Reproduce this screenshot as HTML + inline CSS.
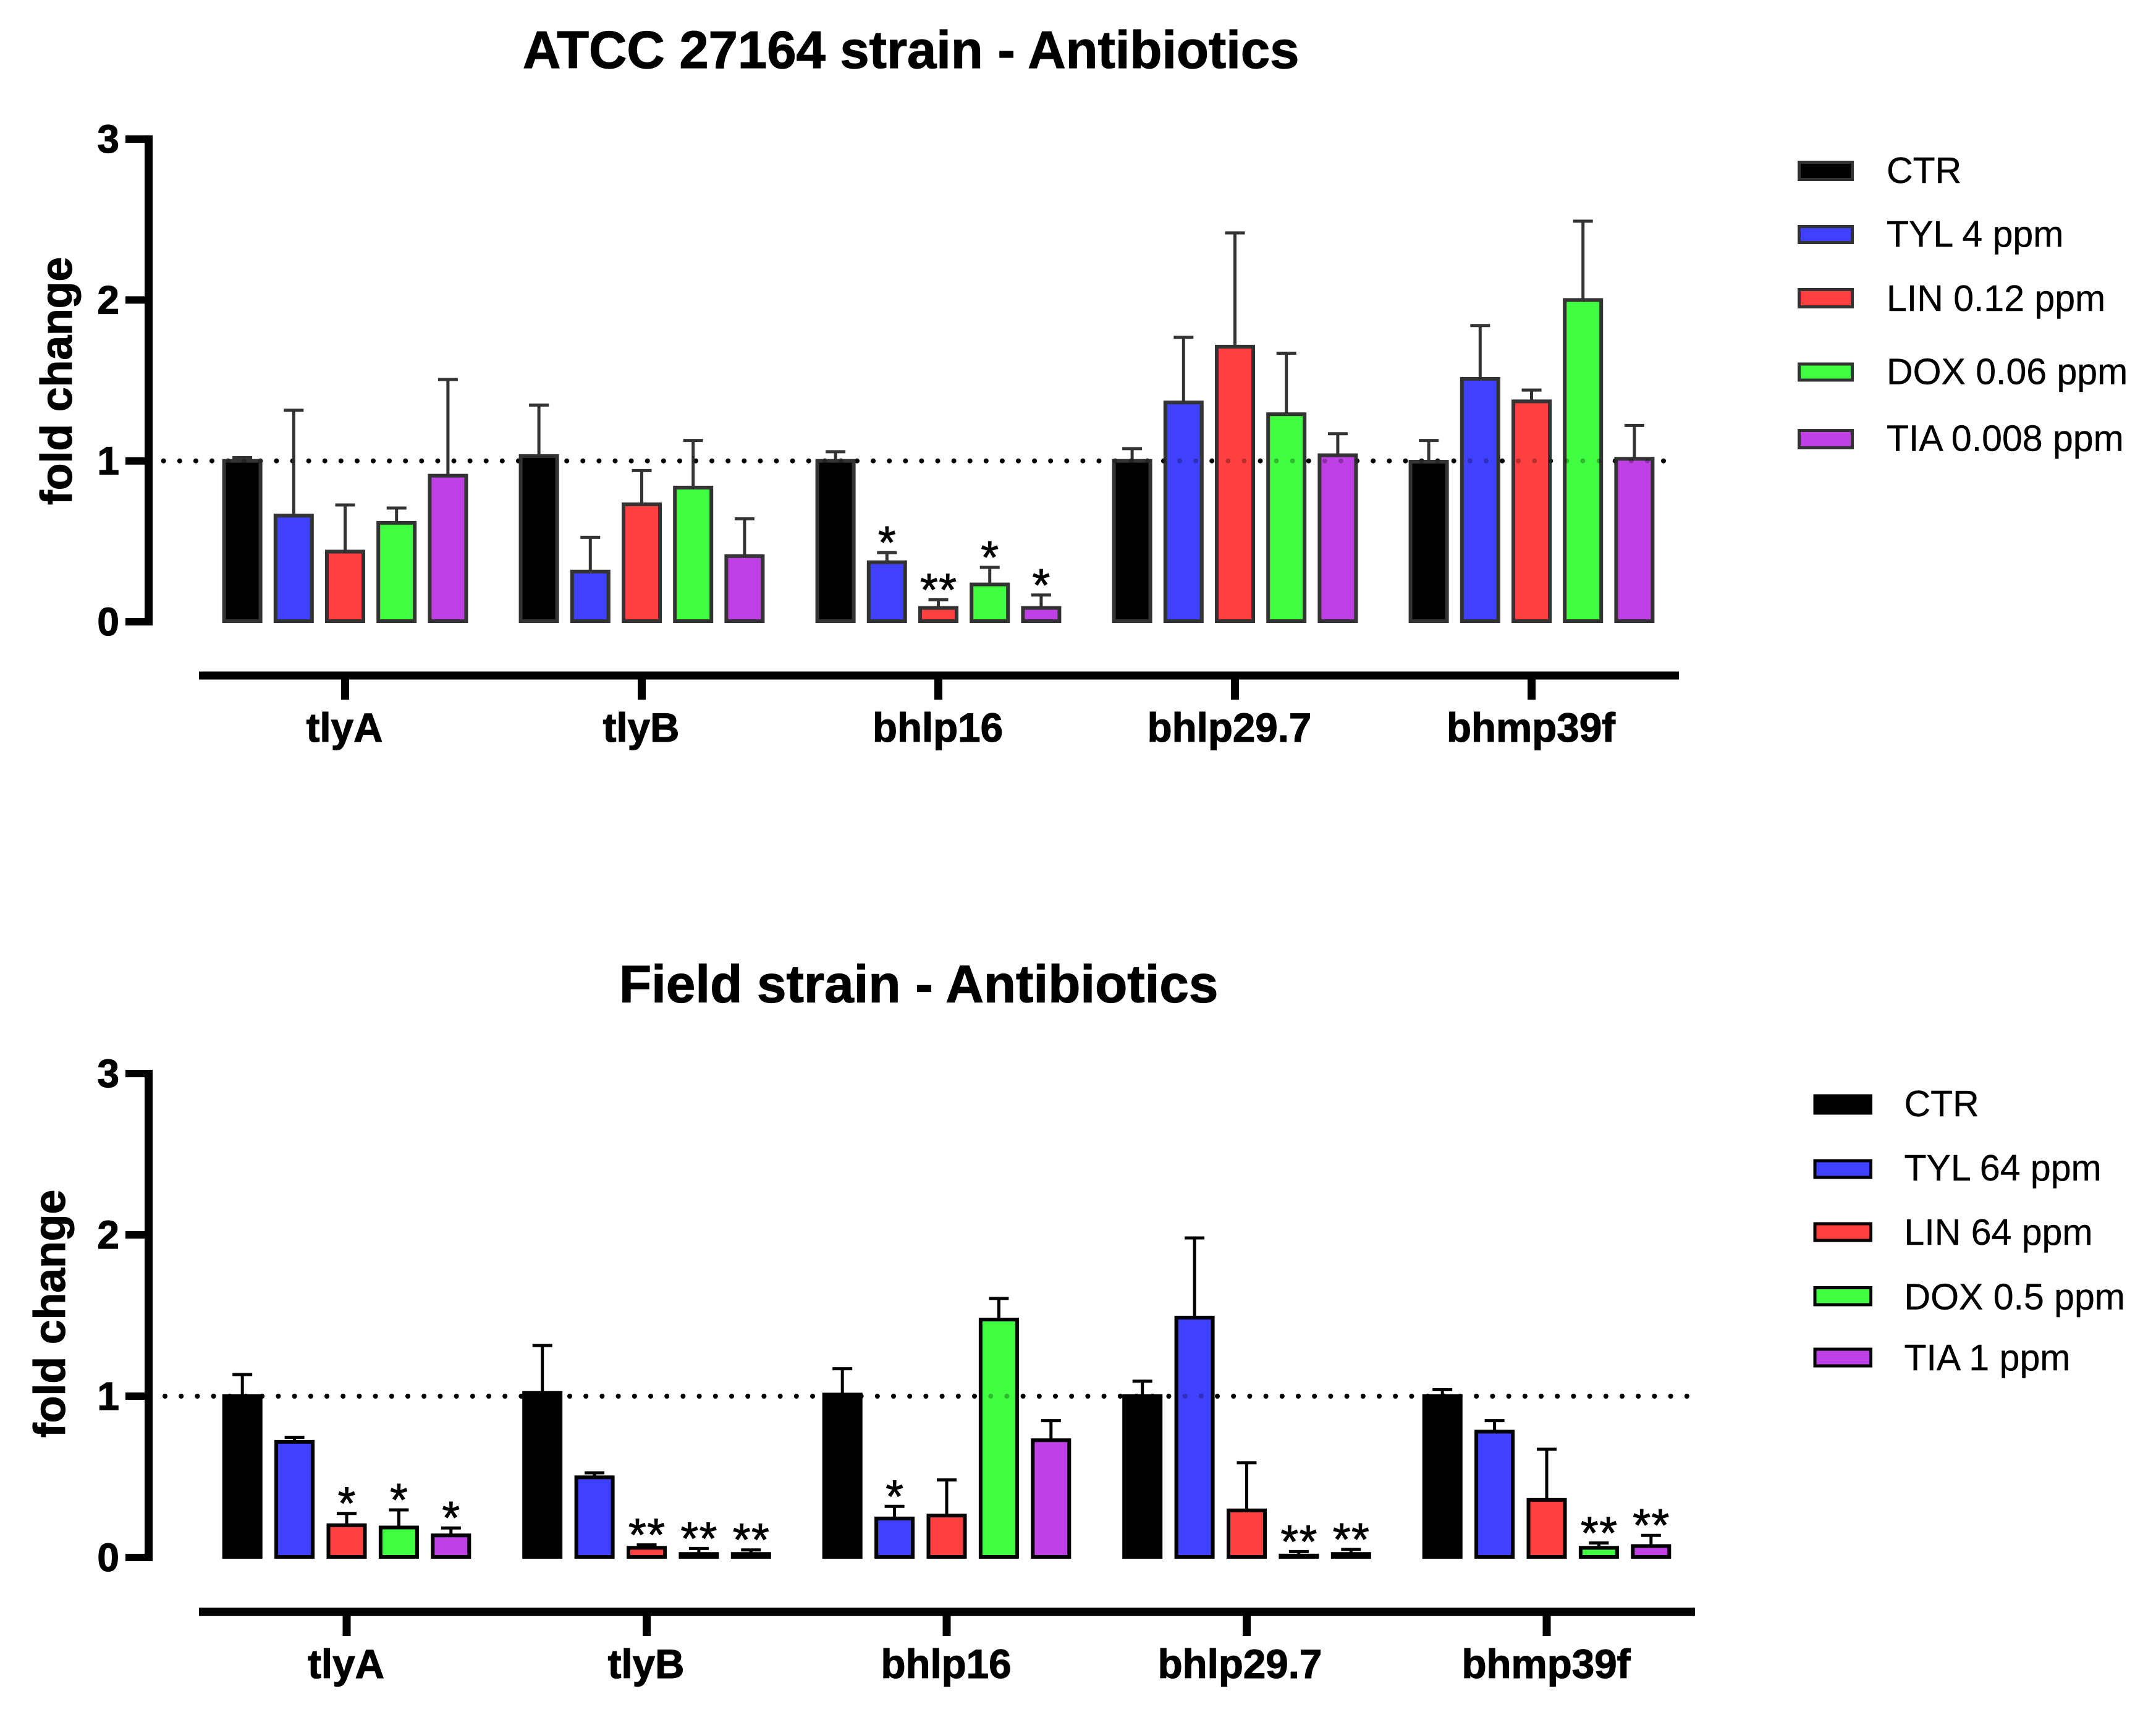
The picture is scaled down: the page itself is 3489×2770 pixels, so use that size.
<!DOCTYPE html>
<html lang="en">
<head>
<meta charset="utf-8">
<title>Antibiotics fold change charts</title>
<style>
html,body{margin:0;padding:0;background:#fff;}
svg{display:block;}
text{font-family:"Liberation Sans",Arial,sans-serif;fill:#000;}
.title{font-weight:700;stroke:#000;stroke-width:1.2px;}
.ytitle{font-size:71.5px;font-weight:700;stroke:#000;stroke-width:1.2px;}
.legend{font-size:59px;stroke:#000;stroke-width:0.4px;}
.ticklabel{font-weight:700;stroke:#000;stroke-width:1.2px;}
.star{stroke:#000;stroke-width:1px;}
</style>
</head>
<body>
<svg id="figure" xmlns="http://www.w3.org/2000/svg" width="3489" height="2770" viewBox="0 0 3489 2770">
  <rect x="0" y="0" width="3489" height="2770" fill="#fff"/>

  <text class="title" style="font-size:85px" x="846" y="110">ATCC 27164 strain - Antibiotics</text>
  <text class="ytitle" transform="translate(116,817) rotate(-90)">fold change</text>
  <g id="atcc-chart"></g>
  <g>
    <g><rect x="2911.5" y="262.5" width="86" height="28" fill="#000" stroke="#333" stroke-width="5"/><text class="legend" x="3053" y="296">CTR</text></g>
    <g><rect x="2911.5" y="366.5" width="86" height="26" fill="#4040ff" stroke="#333" stroke-width="5"/><text class="legend" x="3053" y="399">TYL 4 ppm</text></g>
    <g><rect x="2911.5" y="468.5" width="86" height="28" fill="#ff4040" stroke="#333" stroke-width="5"/><text class="legend" x="3053" y="503">LIN 0.12 ppm</text></g>
    <g><rect x="2911.5" y="589" width="86" height="26" fill="#40ff40" stroke="#333" stroke-width="5"/><text class="legend" x="3053" y="621.5">DOX 0.06 ppm</text></g>
    <g><rect x="2911.5" y="696.5" width="86" height="28" fill="#bf40e5" stroke="#333" stroke-width="5"/><text class="legend" x="3053" y="729.5">TIA 0.008 ppm</text></g>
  </g>

  <text class="title" style="font-size:85.4px" x="1002" y="1621.5">Field strain - Antibiotics</text>
  <text class="ytitle" transform="translate(105,2326) rotate(-90)">fold change</text>
  <g id="field-chart"></g>
  <g>
    <g><rect x="2937" y="1773" width="90.5" height="28" fill="#000" stroke="#000" stroke-width="5"/><text class="legend" x="3081.5" y="1806">CTR</text></g>
    <g><rect x="2937" y="1878" width="90.5" height="27" fill="#4040ff" stroke="#000" stroke-width="5"/><text class="legend" x="3081.5" y="1910">TYL 64 ppm</text></g>
    <g><rect x="2937" y="1980" width="90.5" height="27" fill="#ff4040" stroke="#000" stroke-width="5"/><text class="legend" x="3081.5" y="2014">LIN 64 ppm</text></g>
    <g><rect x="2937" y="2083.5" width="90.5" height="27.5" fill="#40ff40" stroke="#000" stroke-width="5"/><text class="legend" x="3081.5" y="2118.5">DOX 0.5 ppm</text></g>
    <g><rect x="2937" y="2183" width="90.5" height="27" fill="#bf40e5" stroke="#000" stroke-width="5"/><text class="legend" x="3081.5" y="2217">TIA 1 ppm</text></g>
  </g>
</svg>
<script>
// Shared categories and tick labels
const genes = ['tlyA', 'tlyB', 'bhlp16', 'bhlp29.7', 'bhmp39f'];
const yTickValues = [0, 1, 2, 3];
const seriesKeys = ['ctr', 'tyl', 'lin', 'dox', 'tia'];
const seriesColors = ['#000000', '#4040ff', '#ff4040', '#40ff40', '#bf40e5'];
const referenceLevel = 1;

// ATCC 27164 strain: means per gene
const atccCtr = [1.0, 1.03, 1.0, 1.0, 0.995];
const atccTyl = [0.66, 0.312, 0.37, 1.363, 1.51];
const atccLin = [0.436, 0.73, 0.086, 1.71, 1.37];
const atccDox = [0.615, 0.834, 0.232, 1.29, 2.0];
const atccTia = [0.908, 0.408, 0.086, 1.035, 1.013];
// ATCC 27164 strain: upper error per gene
const atccCtrErr = [0.02, 0.317, 0.057, 0.076, 0.132];
const atccTylErr = [0.655, 0.213, 0.06, 0.405, 0.331];
const atccLinErr = [0.29, 0.21, 0.051, 0.707, 0.07];
const atccDoxErr = [0.092, 0.293, 0.106, 0.379, 0.49];
const atccTiaErr = [0.598, 0.232, 0.08, 0.134, 0.207];
// ATCC 27164 strain: significance marks per gene
const atccCtrStars = ['', '', '', '', ''];
const atccTylStars = ['', '', '*', '', ''];
const atccLinStars = ['', '', '**', '', ''];
const atccDoxStars = ['', '', '*', '', ''];
const atccTiaStars = ['', '', '*', '', ''];

// Field strain: means per gene
const fieldCtr = [1.0, 1.02, 1.01, 1.0, 1.0];
const fieldTyl = [0.717, 0.497, 0.242, 1.487, 0.78];
const fieldLin = [0.2, 0.06, 0.26, 0.292, 0.357];
const fieldDox = [0.186, 0.022, 1.475, 0.012, 0.06];
const fieldTia = [0.137, 0.022, 0.727, 0.022, 0.071];
// Field strain: upper error per gene
const fieldCtrErr = [0.134, 0.294, 0.16, 0.093, 0.04];
const fieldTylErr = [0.028, 0.028, 0.075, 0.494, 0.068];
const fieldLinErr = [0.073, 0.018, 0.221, 0.295, 0.314];
const fieldDoxErr = [0.109, 0.034, 0.131, 0.025, 0.03];
const fieldTiaErr = [0.046, 0.025, 0.121, 0.028, 0.066];
// Field strain: significance marks per gene
const fieldCtrStars = ['', '', '', '', ''];
const fieldTylStars = ['', '', '*', '', ''];
const fieldLinStars = ['*', '**', '', '', ''];
const fieldDoxStars = ['*', '**', '', '**', '**'];
const fieldTiaStars = ['*', '**', '', '**', '**'];

const SVGNS = 'http://www.w3.org/2000/svg';

function mk(parent, tag, attrs) {
  const node = document.createElementNS(SVGNS, tag);
  for (const key in attrs) node.setAttribute(key, attrs[key]);
  parent.appendChild(node);
  return node;
}

function drawChart(root, prefix, layout, means, errors, stars) {
  const yScale = function (v) { return layout.y0 - v * layout.unit; };
  const groupX = function (g) { return layout.x0 + g * layout.groupStep; };
  const barX = function (g, s) { return groupX(g) + (s - 2) * layout.barStep; };

  // Axes
  const yAxis = mk(root, 'line', { x1: 240.5, x2: 240.5, y1: yScale(3) - 6, y2: yScale(0) + 6, stroke: '#000', 'stroke-width': 13 });
  
  

  yTickValues.forEach(function (t) {
    const tick = mk(root, 'line', { x1: 203, x2: 240, y1: yScale(t), y2: yScale(t), stroke: '#000', 'stroke-width': 12 });
    
    
    const label = mk(root, 'text', { class: 'ticklabel', x: 193, y: yScale(t) + 22, 'text-anchor': 'end', 'font-size': 64 });
    label.textContent = String(t);
    
    
  });

  const xAxis = mk(root, 'line', { x1: 322, x2: layout.xEnd, y1: layout.axisY, y2: layout.axisY, stroke: '#000', 'stroke-width': layout.axisWidth });
  
  

  genes.forEach(function (gene, g) {
    const tick = mk(root, 'line', { x1: groupX(g), x2: groupX(g), y1: layout.axisY, y2: layout.axisY + 39, stroke: '#000', 'stroke-width': 13 });
    
    
    const nudge = gene === 'bhlp29.7' ? layout.nudge : 0;
    const label = mk(root, 'text', { class: 'ticklabel', x: groupX(g) + nudge - 1, y: layout.labelY, 'text-anchor': 'middle', 'font-size': 65.5 });
    label.textContent = gene;
    
    
  });

  // Reference line, under the bars at full strength
  const dash = '0 ' + layout.dotStep;
  const refUnder = mk(root, 'line', { x1: layout.dotStart, x2: layout.dotEnd, y1: yScale(referenceLevel), y2: yScale(referenceLevel), stroke: '#000', 'stroke-width': 8, 'stroke-linecap': 'round', 'stroke-dasharray': dash });
  
  

  // Bars, error bars, significance marks
  seriesKeys.forEach(function (key, s) {
    genes.forEach(function (gene, g) {
      const cx = barX(g, s);
      const v = means[s][g];
      const top = v + errors[s][g];

      const stem = mk(root, 'line', { x1: cx, x2: cx, y1: yScale(v), y2: yScale(top), stroke: layout.stroke, 'stroke-width': layout.errWidth });
      
      

      const cap = mk(root, 'line', { x1: cx - 16, x2: cx + 16, y1: yScale(top), y2: yScale(top), stroke: layout.stroke, 'stroke-width': layout.errWidth });
      
      

      const barTop = yScale(v);
      const barBottom = yScale(0) - 1;
      const bar = mk(root, 'rect', { x: cx - 29.5, y: Math.min(barTop, barBottom), width: 59, height: Math.abs(barBottom - barTop), fill: seriesColors[s], stroke: layout.stroke, 'stroke-width': 6 });
      
      

      const mark = stars[s][g];
      if (mark) {
        const star = mk(root, 'text', { class: 'star', x: cx + (mark.length - 1) * 0.75, y: yScale(top) + 9, 'text-anchor': 'middle', 'font-size': 74, 'letter-spacing': mark.length > 1 ? 1.5 : 0 });
        star.textContent = mark;
        
        
      }
    });
  });

  // Reference line tint where it shows through the bars
  const refOver = mk(root, 'line', { x1: layout.dotStart, x2: layout.dotEnd, y1: yScale(referenceLevel), y2: yScale(referenceLevel), stroke: 'rgba(0,0,0,0.27)', 'stroke-width': 8, 'stroke-linecap': 'round', 'stroke-dasharray': dash });
  
  
}

drawChart(
  document.getElementById('atcc-chart'), 'atcc',
  { y0: 1006, unit: 260.3, x0: 558.5, groupStep: 480, barStep: 83.2, xEnd: 2717, axisY: 1093, axisWidth: 13, labelY: 1200, nudge: -8, dotStart: 264.7, dotEnd: 2695, dotStep: 26.1, stroke: '#333', errWidth: 5 },
  [atccCtr, atccTyl, atccLin, atccDox, atccTia],
  [atccCtrErr, atccTylErr, atccLinErr, atccDoxErr, atccTiaErr],
  [atccCtrStars, atccTylStars, atccLinStars, atccDoxStars, atccTiaStars]
);

drawChart(
  document.getElementById('field-chart'), 'field',
  { y0: 2520, unit: 261, x0: 561, groupStep: 485.5, barStep: 84.4, xEnd: 2743, axisY: 2608, axisWidth: 13.5, labelY: 2715, nudge: -10, dotStart: 267, dotEnd: 2735, dotStep: 26.2, stroke: '#000', errWidth: 5 },
  [fieldCtr, fieldTyl, fieldLin, fieldDox, fieldTia],
  [fieldCtrErr, fieldTylErr, fieldLinErr, fieldDoxErr, fieldTiaErr],
  [fieldCtrStars, fieldTylStars, fieldLinStars, fieldDoxStars, fieldTiaStars]
);
</script>
</body>
</html>
